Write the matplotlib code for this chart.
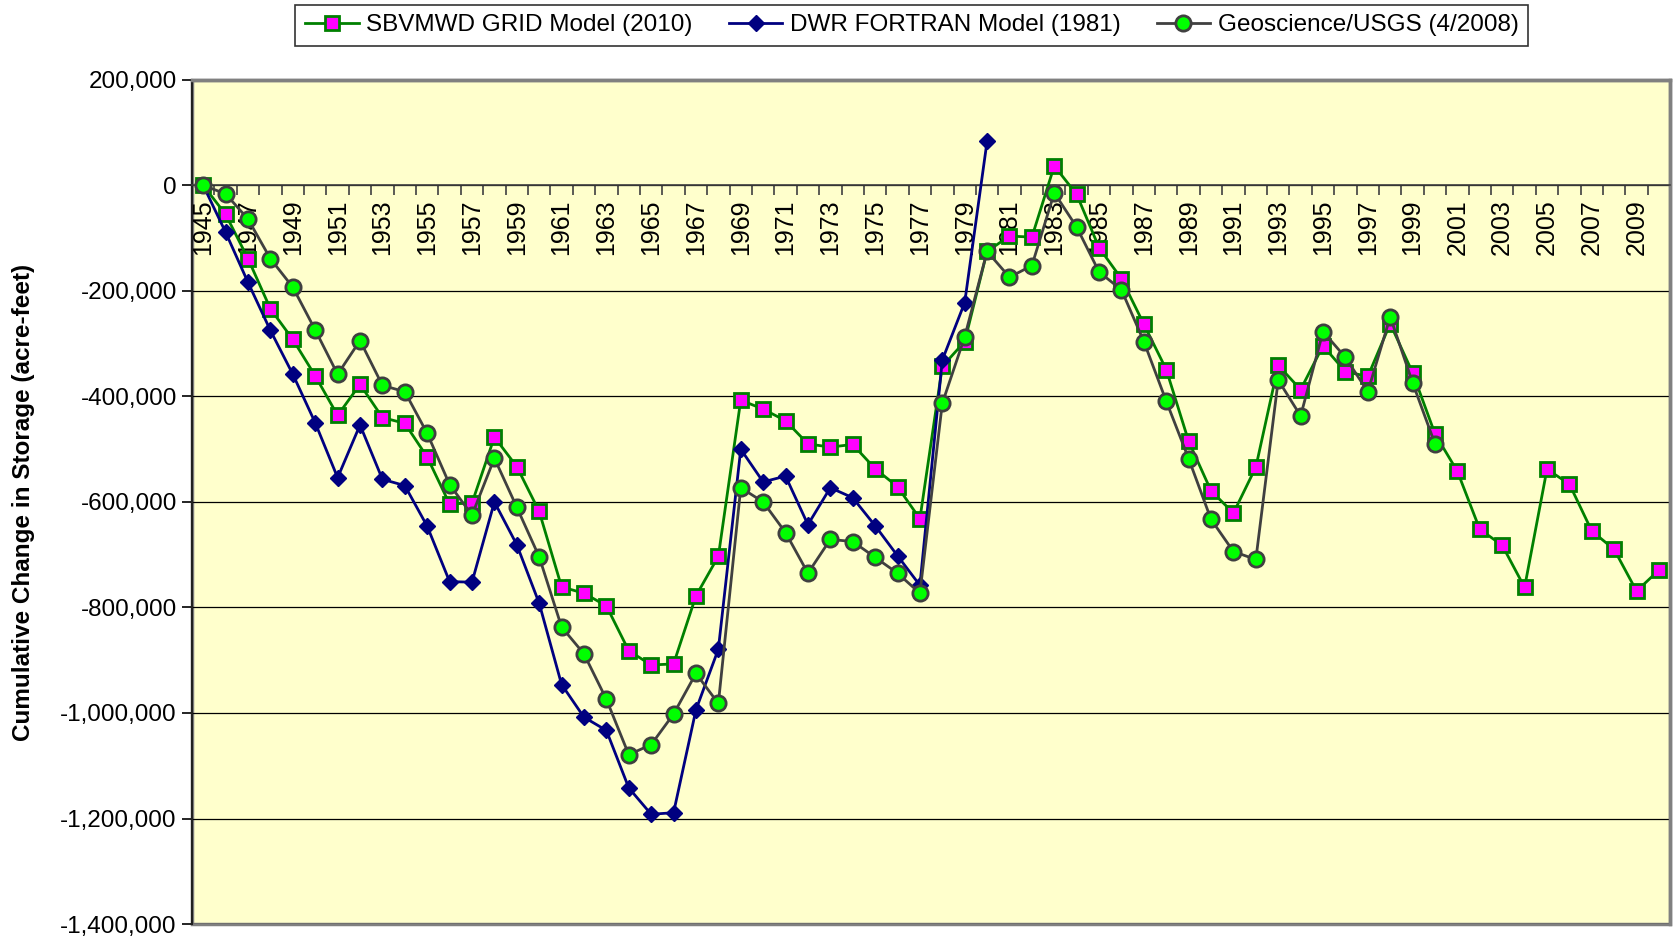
import numpy as np
import matplotlib
matplotlib.use('Agg')
import matplotlib.pyplot as plt
from matplotlib.ticker import FuncFormatter, FixedLocator
from matplotlib.patches import Rectangle

plt.rcParams['font.family'] = ['Liberation Sans', 'DejaVu Sans']

#Cumulative change in storage, acre-feet, one value per year
years = np.arange(1945, 2011)

grid_2010 = [0, -55000, -139000, -234000, -292000, -361000, -436000, -377000, -440000, -451000,
             -515000, -604000, -602000, -477000, -533000, -618000, -761000, -773000, -797000, -882000,
             -909000, -907000, -778000, -703000, -407000, -424000, -446000, -490000, -496000, -491000,
             -537000, -571000, -632000, -343000, -296000, -125000, -96000, -98000, 37000, -17000,
             -118000, -177000, -263000, -349000, -485000, -579000, -621000, -534000, -341000, -387000,
             -304000, -353000, -362000, -262000, -355000, -471000, -542000, -652000, -682000, -762000,
             -538000, -566000, -655000, -690000, -769000, -729000]

#DWR model stops at 1980
dwr_1981 = [0, -89000, -184000, -275000, -358000, -450000, -554000, -454000, -557000, -569000,
            -646000, -751000, -752000, -600000, -681000, -792000, -946000, -1008000, -1033000, -1142000,
            -1192000, -1189000, -994000, -879000, -500000, -562000, -551000, -643000, -573000, -592000,
            -645000, -702000, -758000, -331000, -222000, 84000]

#USGS stops at 2000
usgs_2008 = [0, -16000, -64000, -139000, -193000, -274000, -358000, -294000, -379000, -391000,
             -470000, -567000, -625000, -517000, -610000, -704000, -837000, -888000, -974000, -1079000,
             -1060000, -1002000, -925000, -982000, -573000, -600000, -658000, -735000, -671000, -675000,
             -705000, -735000, -773000, -413000, -287000, -125000, -174000, -152000, -14000, -79000,
             -164000, -198000, -296000, -409000, -518000, -633000, -694000, -709000, -369000, -437000,
             -277000, -326000, -391000, -249000, -374000, -490000]

labels = ['SBVMWD GRID Model (2010)', 'DWR FORTRAN Model (1981)', 'Geoscience/USGS (4/2008)']

fig = plt.figure(figsize=(16.73, 9.40), dpi=100)
ax = fig.add_axes([0.1148, 0.017, 0.8835, 0.898])
ax.set_facecolor('#FFFFCC')

ax.plot(years, grid_2010, '-', color='#008000', lw=2.0, marker='s', ms=10,
        mfc='#FF00FF', mec='#008000', mew=2.0, label=labels[0], zorder=3)
ax.plot(years[:len(dwr_1981)], dwr_1981, '-', color='#000080', lw=2.0, marker='D', ms=8,
        mfc='#000080', mec='#000080', label=labels[1], zorder=4)
ax.plot(years[:len(usgs_2008)], usgs_2008, '-', color='#404040', lw=2.0, marker='o', ms=11,
        mfc='#00FF00', mec='#404040', mew=2.0, label=labels[2], zorder=5)

ax.set_xlim(1944.5, 2010.5)
ax.set_ylim(-1400000, 200000)

#y axis
ax.yaxis.set_major_locator(FixedLocator(np.arange(-1400000, 200001, 200000)))
ax.yaxis.set_major_formatter(FuncFormatter(lambda v, p: '{:,.0f}'.format(v)))
ax.tick_params(axis='y', direction='out', length=7, width=1.2, labelsize=17.5, pad=4)
ax.grid(axis='y', color='black', lw=0.9, zorder=1)
ax.set_axisbelow(True)
ax.set_ylabel('Cumulative Change in Storage (acre-feet)', fontsize=17.5, fontweight='bold')
ax.yaxis.set_label_coords(-0.1065, 0.5)

#x axis sits on the zero line
ax.spines['bottom'].set_position(('data', 0))
ax.spines['bottom'].set_color('#404040')
ax.spines['bottom'].set_linewidth(1.2)
ax.set_xticks(years[::2])
ax.set_xticklabels([str(y) for y in years[::2]], rotation=90, fontsize=18)
ax.set_xticks(np.arange(1944.5, 2011, 1.0), minor=True)
ax.tick_params(axis='x', which='major', length=0, pad=10)
ax.tick_params(axis='x', which='minor', direction='out', length=7, width=1.2, color='#404040')
for t in ax.get_xticklabels():
    t.set_verticalalignment('top')

ax.spines['left'].set_color('#202020')
ax.spines['left'].set_linewidth(1.5)
for s in ['top', 'right']:
    ax.spines[s].set_color('#808080')
    ax.spines[s].set_linewidth(2.5)

#bottom border of plot area
ax.add_patch(Rectangle((0, 0), 1, 1, transform=ax.transAxes, fill=False,
                       edgecolor='#808080', lw=2.5, clip_on=False, zorder=0.5))

leg = fig.legend(loc='center', bbox_to_anchor=(0.545, 0.973), ncol=3, fontsize=17.5,
                 frameon=True, fancybox=False, edgecolor='black', borderpad=0.4,
                 handlelength=2.2, columnspacing=1.5, handletextpad=0.3)
leg.get_frame().set_linewidth(1.2)

plt.savefig('out.png', dpi=100)
